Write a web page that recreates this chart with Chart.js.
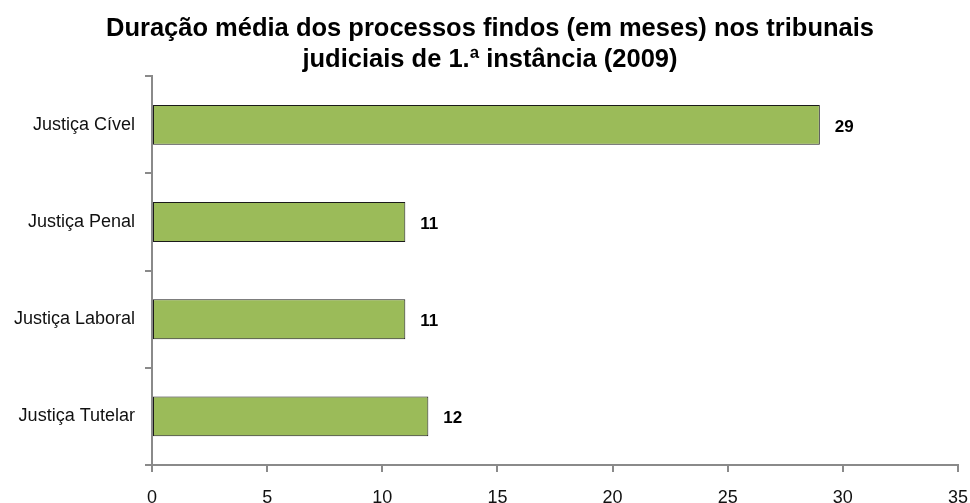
<!DOCTYPE html>
<html><head><meta charset="utf-8">
<script src="https://cdn.jsdelivr.net/npm/chart.js@4"></script>
<style>html,body{margin:0;padding:0;background:#fff}#wrap{width:970px;height:503px}</style>
</head><body><div id="wrap"><canvas id="c" width="970" height="503"></canvas></div>
<script>
const categories = ["Justiça Cível", "Justiça Penal", "Justiça Laboral", "Justiça Tutelar"];
const values = [29, 11, 11, 12];
const titleLines = ["Duração média dos processos findos (em meses) nos tribunais", "judiciais de 1.ª instância (2009)"];
const xMin = 0, xMax = 35, xStep = 5;

const valueLabels = {
  id: 'valueLabels',
  afterDatasetsDraw(chart) {
    const ctx = chart.ctx;
    const meta = chart.getDatasetMeta(0);
    ctx.save();
    ctx.font = 'bold 17px "Liberation Sans", Arial, sans-serif';
    ctx.fillStyle = '#000';
    ctx.textAlign = 'left';
    ctx.textBaseline = 'middle';
    meta.data.forEach((bar, i) => {
      ctx.fillText(String(values[i]), bar.x + 15, bar.y + 2);
    });
    ctx.restore();
  }
};

new Chart(document.getElementById('c'), {
  type: 'bar',
  data: {
    labels: categories,
    datasets: [{
      data: values,
      backgroundColor: '#9BBB59',
      borderColor: '#1a1a1a',
      borderWidth: 1,
      borderSkipped: false,
      barPercentage: 0.41,
      categoryPercentage: 1.0
    }]
  },
  options: {
    indexAxis: 'y',
    responsive: false,
    animation: false,
    devicePixelRatio: 1,
    layout: { padding: { left: 10, right: 0, top: 0, bottom: 0 } },
    plugins: {
      legend: { display: false },
      tooltip: { enabled: false },
      title: {
        display: true,
        text: titleLines,
        color: '#000',
        font: { family: '"Liberation Sans", Arial, sans-serif', size: 25.5, weight: 'bold', lineHeight: 1.22 },
        padding: { top: 13, bottom: 1 }
      }
    },
    scales: {
      x: {
        min: xMin, max: xMax,
        ticks: { stepSize: xStep, color: '#111', font: { family: '"Liberation Sans", Arial, sans-serif', size: 18 }, padding: 15 },
        grid: { drawOnChartArea: false, drawTicks: true, tickLength: 7, color: '#8a8a8a', lineWidth: 2 },
        border: { color: '#8a8a8a', width: 2 },
        afterFit(s) { s.height = 38; s.paddingRight = 12; s.paddingLeft = 0; }
      },
      y: {
        ticks: { color: '#111', font: { family: '"Liberation Sans", Arial, sans-serif', size: 18 }, padding: 10 },
        grid: { drawOnChartArea: false, drawTicks: true, tickLength: 7, color: '#8a8a8a', lineWidth: 2, offset: true },
        border: { color: '#8a8a8a', width: 2 },
        afterFit(s) { s.width = 142; }
      }
    }
  },
  plugins: [valueLabels]
});
</script></body></html>
